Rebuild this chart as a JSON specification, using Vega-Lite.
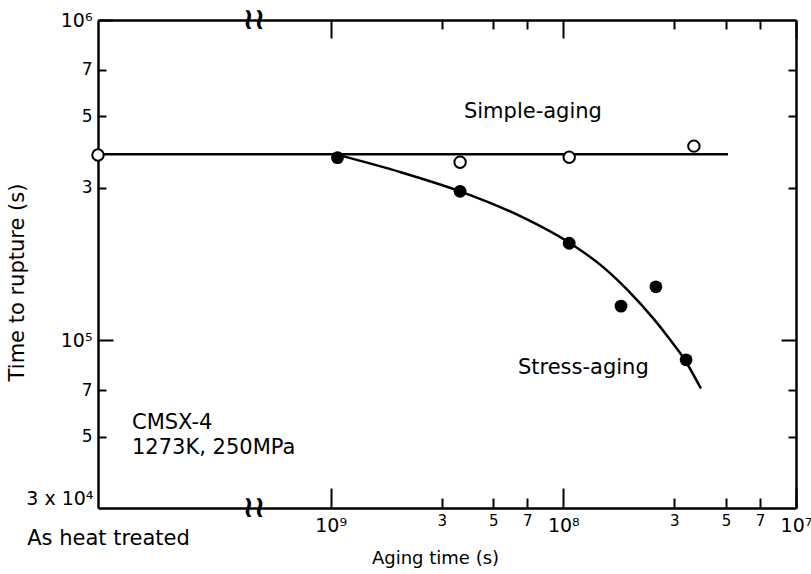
{
  "$schema": "https://vega.github.io/schema/vega-lite/v6.json",
  "width": 698,
  "height": 488,
  "autosize": {"type": "none"},
  "padding": {"left": 98, "top": 20, "right": 15, "bottom": 66},
  "background": "white",
  "config": {
    "view": {"stroke": null},
    "axis": {
      "grid": false,
      "domainColor": "black",
      "domainWidth": 2.5,
      "tickColor": "black",
      "tickWidth": 2,
      "labelColor": "black",
      "labelFont": "DejaVu Sans",
      "titleFont": "DejaVu Sans",
      "titleColor": "black",
      "titleFontWeight": "normal",
      "labelOverlap": false,
      "labelFlush": false
    },
    "text": {"font": "DejaVu Sans"}
  },
  "datasets": {
    "simpleLine": [
      {"aging": 100000, "rupture": 381000},
      {"aging": 51000000, "rupture": 381000}
    ],
    "stressCurve": [
      {"aging": 1065000, "rupture": 380000},
      {"aging": 2000000, "rupture": 335000},
      {"aging": 3600000, "rupture": 292000},
      {"aging": 6400000, "rupture": 246000},
      {"aging": 10700000, "rupture": 201000},
      {"aging": 14700000, "rupture": 170300},
      {"aging": 18950000, "rupture": 143300},
      {"aging": 24750000, "rupture": 115500},
      {"aging": 28720000, "rupture": 100700},
      {"aging": 32980000, "rupture": 87840},
      {"aging": 39010000, "rupture": 70800}
    ],
    "simple": [
      {"aging": 100000, "rupture": 379000},
      {"aging": 3600000, "rupture": 360000},
      {"aging": 10600000, "rupture": 373000},
      {"aging": 36400000, "rupture": 404000}
    ],
    "stress": [
      {"aging": 1070000, "rupture": 372000},
      {"aging": 3600000, "rupture": 292000},
      {"aging": 10600000, "rupture": 201000},
      {"aging": 17700000, "rupture": 128000},
      {"aging": 25000000, "rupture": 147000},
      {"aging": 33700000, "rupture": 87000}
    ],
    "notes": [
      {"aging": 3740000, "rupture": 516000, "label": "Simple-aging"},
      {"aging": 6380000, "rupture": 81800, "label": "Stress-aging"},
      {"aging": 140000, "rupture": 55100, "label": "CMSX-4"},
      {"aging": 140000, "rupture": 46300, "label": "1273K, 250MPa"}
    ],
    "breaks": [
      {"aging": 468000, "rupture": 1000000},
      {"aging": 468000, "rupture": 30000}
    ]
  },
  "resolve": {"axis": {"x": "independent", "y": "independent"}},
  "layer": [
    {
      "data": {"name": "simpleLine"},
      "mark": {"type": "line", "color": "black", "strokeWidth": 2.5},
      "encoding": {
        "x": {
          "field": "aging", "type": "quantitative",
          "scale": {"type": "log", "domain": [100000, 100000000], "nice": false},
          "axis": {
            "orient": "bottom",
            "values": [100000, 1000000, 3000000, 5000000, 7000000, 10000000, 30000000, 50000000, 70000000, 100000000],
            "labelExpr": "datum.value < 200000 ? 'As heat treated' : datum.value == 1000000 ? '10⁹' : datum.value == 10000000 ? '10⁸' : datum.value == 100000000 ? '10⁷' : substring(toString(datum.value), 0, 1)",
            "tickSize": {"condition": [{"test": "datum.value < 200000", "value": 0}, {"test": "datum.value == 1000000 || datum.value == 10000000 || datum.value == 100000000", "value": -20}], "value": -10},
            "labelPadding": {"condition": [{"test": "datum.value < 200000", "value": 19}, {"test": "datum.value == 1000000 || datum.value == 10000000 || datum.value == 100000000", "value": 28}], "value": 15},
            "labelOffset": {"condition": {"test": "datum.value < 200000", "value": 10}, "value": 0},
            "labelFontSize": {"condition": [{"test": "datum.value < 200000", "value": 21}, {"test": "datum.value == 1000000 || datum.value == 10000000 || datum.value == 100000000", "value": 19}], "value": 15},
            "title": "Aging time (s)",
            "titleFontSize": 18,
            "titleX": 337,
            "titleY": 50,
            "titleAlign": "center",
            "titleBaseline": "middle"
          }
        },
        "y": {
          "field": "rupture", "type": "quantitative",
          "scale": {"type": "log", "domain": [30000, 1000000], "nice": false},
          "axis": {
            "orient": "left",
            "values": [30000, 50000, 70000, 100000, 300000, 500000, 700000, 1000000],
            "labelExpr": "datum.value == 1000000 ? '10⁶' : datum.value == 100000 ? '10⁵' : datum.value == 30000 ? '3 x 10⁴' : substring(toString(datum.value), 0, 1)",
            "tickSize": {"condition": [{"test": "datum.value == 30000", "value": 0}, {"test": "datum.value == 100000 || datum.value == 1000000", "value": -15}], "value": -8},
            "labelPadding": {"condition": [{"test": "datum.value == 30000", "value": 5}, {"test": "datum.value == 100000 || datum.value == 1000000", "value": 21}], "value": 14},
            "labelBaseline": {"condition": {"test": "datum.value == 30000", "value": "bottom"}, "value": "middle"},
            "labelFontSize": {"condition": {"test": "datum.value == 30000 || datum.value == 100000 || datum.value == 1000000", "value": 19}, "value": 17},
            "title": "Time to rupture (s)",
            "titleFontSize": 21,
            "titleAngle": -90,
            "titleX": -81,
            "titleY": 262,
            "titleAlign": "center",
            "titleBaseline": "middle"
          }
        }
      }
    },
    {
      "data": {"name": "stressCurve"},
      "mark": {"type": "line", "color": "black", "strokeWidth": 2.5, "interpolate": "monotone"},
      "encoding": {
        "x": {
          "field": "aging", "type": "quantitative",
          "scale": {"type": "log", "domain": [100000, 100000000], "nice": false},
          "axis": {
            "orient": "top",
            "values": [1000000, 3000000, 5000000, 7000000, 10000000, 30000000, 50000000, 70000000, 100000000],
            "labels": false,
            "title": null,
            "tickSize": {"condition": {"test": "datum.value == 1000000 || datum.value == 10000000 || datum.value == 100000000", "value": -18}, "value": -9}
          }
        },
        "y": {
          "field": "rupture", "type": "quantitative",
          "scale": {"type": "log", "domain": [30000, 1000000], "nice": false},
          "axis": {
            "orient": "right",
            "values": [50000, 70000, 100000, 300000, 500000, 700000],
            "labels": false,
            "title": null,
            "tickSize": {"condition": {"test": "datum.value == 100000", "value": -15}, "value": -8}
          }
        }
      }
    },
    {
      "data": {"name": "simple"},
      "mark": {"type": "point", "shape": "circle", "fill": "white", "stroke": "black", "strokeWidth": 2, "size": 130, "opacity": 1},
      "encoding": {
        "x": {"field": "aging", "type": "quantitative", "scale": {"type": "log", "domain": [100000, 100000000], "nice": false}, "axis": null},
        "y": {"field": "rupture", "type": "quantitative", "scale": {"type": "log", "domain": [30000, 1000000], "nice": false}, "axis": null}
      }
    },
    {
      "data": {"name": "stress"},
      "mark": {"type": "circle", "color": "black", "size": 165, "opacity": 1},
      "encoding": {
        "x": {"field": "aging", "type": "quantitative", "scale": {"type": "log", "domain": [100000, 100000000], "nice": false}, "axis": null},
        "y": {"field": "rupture", "type": "quantitative", "scale": {"type": "log", "domain": [30000, 1000000], "nice": false}, "axis": null}
      }
    },
    {
      "data": {"name": "notes"},
      "mark": {"type": "text", "align": "left", "baseline": "middle", "fontSize": 21, "color": "black"},
      "encoding": {
        "x": {"field": "aging", "type": "quantitative", "scale": {"type": "log", "domain": [100000, 100000000], "nice": false}, "axis": null},
        "y": {"field": "rupture", "type": "quantitative", "scale": {"type": "log", "domain": [30000, 1000000], "nice": false}, "axis": null},
        "text": {"field": "label"}
      }
    },
    {
      "data": {"name": "breaks"},
      "mark": {"type": "text", "align": "center", "baseline": "middle", "fontSize": 30, "fontWeight": "bold", "color": "black", "text": "≀≀"},
      "encoding": {
        "x": {"field": "aging", "type": "quantitative", "scale": {"type": "log", "domain": [100000, 100000000], "nice": false}, "axis": null},
        "y": {"field": "rupture", "type": "quantitative", "scale": {"type": "log", "domain": [30000, 1000000], "nice": false}, "axis": null}
      }
    }
  ]
}
